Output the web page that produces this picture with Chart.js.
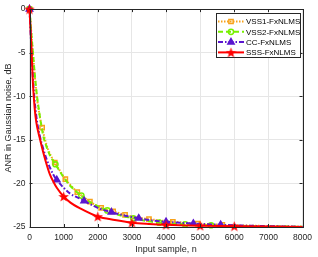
<!DOCTYPE html>
<html>
<head>
<meta charset="utf-8">
<script src="https://cdn.jsdelivr.net/npm/chart.js@4"></script>
<style>
	html, body { margin: 0; padding: 0; background: #fff; }
	#anrChart { display: block; }
</style>
</head>
<body>
<canvas id="anrChart" width="318" height="257"></canvas>
<script>
// values (input sample n -> ANR in dB)
const vss1X = [0, 100, 200, 300, 370, 500, 600, 740, 900, 1050, 1200, 1400, 1600, 1770, 2100, 2450, 2800, 3150, 3500, 4200, 4930, 5650, 6500, 7200, 8000];
const vss1Y = [0, -5, -9.5, -12.3, -13.6, -15.6, -16.6, -17.6, -18.6, -19.5, -20.2, -21.0, -21.6, -22.1, -22.8, -23.2, -23.6, -23.9, -24.1, -24.4, -24.6, -24.75, -24.85, -24.9, -24.95];
const vss1Marks = [0, 370, 740, 1050, 1400, 1770, 2100, 2450, 2800, 3500, 4200, 4930, 5650];

const vss2X = [0, 100, 200, 300, 400, 500, 600, 760, 1000, 1200, 1520, 1800, 2280, 2600, 3040, 3400, 3800, 4560, 5320, 6000, 7000, 8000];
const vss2Y = [0, -5, -9.3, -12.2, -14.5, -15.8, -16.8, -17.8, -19.3, -20.3, -21.4, -22.2, -23.1, -23.6, -24.0, -24.3, -24.5, -24.7, -24.8, -24.88, -24.93, -24.97];
const vss2Marks = [0, 760, 1520, 2280, 3040, 3800, 4560, 5320];

const ccX = [0, 100, 200, 300, 400, 500, 600, 700, 800, 1000, 1200, 1400, 1600, 2000, 2400, 2800, 3200, 3600, 4000, 4800, 5600, 6400, 7200, 8000];
const ccY = [0, -8, -12.3, -14.5, -16, -17.2, -18.2, -19, -19.6, -20.5, -21.2, -21.6, -22.0, -22.8, -23.3, -23.7, -24.0, -24.25, -24.4, -24.6, -24.75, -24.85, -24.92, -24.97];
const ccMarks = [0, 800, 1600, 2400, 3200, 4000, 4800, 5600];

const sssX = [0, 50, 100, 150, 200, 300, 400, 500, 600, 700, 800, 1000, 1200, 1500, 2000, 2500, 3000, 3500, 4000, 5000, 6000, 7000, 8000];
const sssY = [0, -3.8, -8.5, -11.3, -13, -14.8, -16.4, -17.8, -19, -19.8, -20.5, -21.5, -22.2, -22.9, -23.8, -24.2, -24.5, -24.65, -24.75, -24.85, -24.9, -24.95, -25];
const sssMarks = [0, 1000, 2000, 3000, 4000, 5000, 6000];

const xTicks = [0, 1000, 2000, 3000, 4000, 5000, 6000, 7000, 8000];
const yTicks = [0, -5, -10, -15, -20, -25];

const FONT = '"Liberation Sans", Arial, sans-serif';
const AXIS_COLOR = '#262626';

function toPoints(xs, ys) {
	return xs.map((x, i) => ({ x: x, y: ys[i] }));
}

// filled pentagram like the MATLAB 'p' marker
function makeStar(size, color) {
	const c = document.createElement('canvas');
	c.width = size;
	c.height = size;
	const g = c.getContext('2d');
	const cx = size / 2, cy = size / 2 + 0.5;
	const R = size / 2, r = R * 0.42;
	g.beginPath();
	for (let i = 0; i < 10; i++) {
		const rad = i % 2 === 0 ? R : r;
		const a = -Math.PI / 2 + i * Math.PI / 5;
		const px = cx + rad * Math.cos(a);
		const py = cy + rad * Math.sin(a);
		if (i === 0) g.moveTo(px, py); else g.lineTo(px, py);
	}
	g.closePath();
	g.fillStyle = color;
	g.fill();
	return c;
}

const starImg = makeStar(11, '#ff0000');

const series = [
	{ label: 'SSS-FxNLMS', xs: sssX, ys: sssY, marks: sssMarks, color: '#ff0000', dash: [], style: starImg, radius: 5, fill: '#ff0000' },
	{ label: 'CC-FxNLMS', xs: ccX, ys: ccY, marks: ccMarks, color: '#5a16cf', dash: [5, 2, 1.5, 2], style: 'triangle', radius: 3.6, fill: '#5a16cf' },
	{ label: 'VSS2-FxNLMS', xs: vss2X, ys: vss2Y, marks: vss2Marks, color: '#77f000', dash: [5, 3], style: 'circle', radius: 2.6, fill: 'rgba(0,0,0,0)' },
	{ label: 'VSS1-FxNLMS', xs: vss1X, ys: vss1Y, marks: vss1Marks, color: '#f7a21b', dash: [1.5, 1.5], style: 'rect', radius: 3, fill: 'rgba(0,0,0,0)' }
];

const datasets = series.map(s => ({
	label: s.label,
	data: toPoints(s.xs, s.ys),
	borderColor: s.color,
	backgroundColor: s.fill,
	borderWidth: 2,
	borderDash: s.dash,
	cubicInterpolationMode: 'monotone',
	pointStyle: s.style,
	pointBorderColor: s.color,
	pointBackgroundColor: s.fill,
	pointBorderWidth: 1.5,
	pointRadius: ctx => (ctx.raw && s.marks.includes(ctx.raw.x) ? s.radius : 0),
	pointHoverRadius: 0,
	clip: 8
}));

// axes box, inward tick marks and the legend box, drawn like the MATLAB figure
const boxPlugin = {
	id: 'boxPlugin',
	afterDraw(chart) {
		const ctx = chart.ctx;
		const a = chart.chartArea;
		const xs = chart.scales.x, ys = chart.scales.y;
		ctx.save();
		ctx.strokeStyle = AXIS_COLOR;
		ctx.lineWidth = 1;
		ctx.setLineDash([]);
		ctx.strokeRect(Math.round(a.left) + 0.5, Math.round(a.top) + 0.5, Math.round(a.right - a.left), Math.round(a.bottom - a.top));
		ctx.beginPath();
		xTicks.forEach(v => {
			const px = Math.round(xs.getPixelForValue(v)) + 0.5;
			ctx.moveTo(px, a.bottom); ctx.lineTo(px, a.bottom - 3);
			ctx.moveTo(px, a.top); ctx.lineTo(px, a.top + 3);
		});
		yTicks.forEach(v => {
			const py = Math.round(ys.getPixelForValue(v)) + 0.5;
			ctx.moveTo(a.left, py); ctx.lineTo(a.left + 3, py);
			ctx.moveTo(a.right, py); ctx.lineTo(a.right - 3, py);
		});
		ctx.stroke();

		// legend
		const lx = 216, ly = 13, lw = 84, lh = 44;
		ctx.fillStyle = '#fff';
		ctx.fillRect(lx, ly, lw, lh);
		ctx.strokeStyle = '#262626';
		ctx.strokeRect(lx + 0.5, ly + 0.5, lw, lh);
		const order = [3, 2, 1, 0];
		ctx.font = '8px ' + FONT;
		ctx.textBaseline = 'middle';
		order.forEach((k, i) => {
			const s = series[k];
			const y = ly + 8.5 + i * 10.3;
			ctx.strokeStyle = s.color;
			ctx.lineWidth = 2;
			ctx.setLineDash(s.dash);
			ctx.beginPath();
			ctx.moveTo(lx + 2, y);
			ctx.lineTo(lx + 28, y);
			ctx.stroke();
			ctx.setLineDash([]);
			ctx.lineWidth = 1.5;
			ctx.fillStyle = s.fill;
			Chart.helpers.drawPoint(ctx, { pointStyle: s.style, radius: s.radius, borderWidth: 1.5, rotation: 0 }, lx + 15, y);
			ctx.fillStyle = '#000';
			ctx.fillText(s.label, lx + 30, y + 0.5);
		});
		ctx.restore();
	}
};

new Chart(document.getElementById('anrChart').getContext('2d'), {
	type: 'line',
	data: { datasets: datasets },
	options: {
		responsive: false,
		animation: false,
		events: [],
		layout: { padding: { top: 9, right: 11, left: 0, bottom: 0 } },
		plugins: {
			legend: { display: false },
			tooltip: { enabled: false }
		},
		scales: {
			x: {
				type: 'linear',
				min: 0,
				max: 8000,
				afterFit: s => { s.height = 30; },
				afterBuildTicks: s => { s.ticks = xTicks.map(v => ({ value: v })); },
				grid: { color: '#e6e6e6', drawTicks: false },
				border: { display: false },
				ticks: { font: { family: FONT, size: 8.5 }, color: AXIS_COLOR, padding: 6, maxRotation: 0, autoSkip: false, callback: v => String(v) },
				title: { display: true, text: 'Input sample, n', font: { family: FONT, size: 9 }, color: '#262626', padding: { top: 2, bottom: 2 } }
			},
			y: {
				type: 'linear',
				min: -25,
				max: 0,
				afterFit: s => { s.width = 29.5; },
				afterBuildTicks: s => { s.ticks = yTicks.map(v => ({ value: v })); },
				grid: { color: '#e6e6e6', drawTicks: false },
				border: { display: false },
				ticks: { font: { family: FONT, size: 8.5 }, color: AXIS_COLOR, padding: 4, autoSkip: false, callback: v => String(v) },
				title: { display: true, text: 'ANR in Gaussian noise, dB', font: { family: FONT, size: 9 }, color: '#262626', padding: { top: 3, bottom: 2 } }
			}
		}
	},
	plugins: [boxPlugin]
});
</script>
</body>
</html>
